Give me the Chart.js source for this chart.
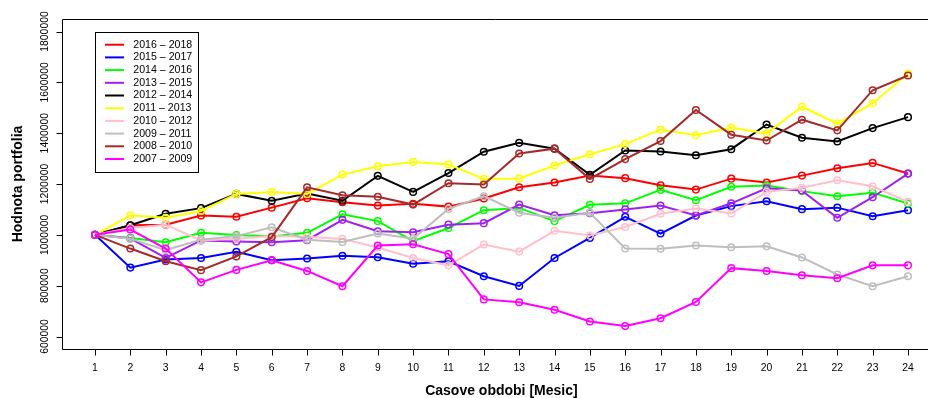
<!DOCTYPE html>
<html>
<head>
<meta charset="utf-8">
<script src="https://cdn.jsdelivr.net/npm/chart.js@4"></script>
<style>
  html, body { margin: 0; padding: 0; background: #fff; overflow: hidden; }
  #wrap { width: 928px; height: 398px; }
</style>
</head>
<body>
<div id="wrap"><canvas id="c" width="928" height="398"></canvas></div>
<script>
// Months of the investment horizon
const months = [1,2,3,4,5,6,7,8,9,10,11,12,13,14,15,16,17,18,19,20,21,22,23,24];
const yTicks = [600000, 800000, 1000000, 1200000, 1400000, 1600000, 1800000];

// Portfolio value for each two-year window
const p2016_2018 = [1000000,1038000,1040000,1076000,1071000,1107000,1144000,1128000,1115000,1122000,1111000,1143000,1187000,1206000,1233000,1223000,1195000,1178000,1221000,1206000,1233000,1262000,1283000,1241000];
const p2015_2017 = [1000000,871000,903000,909000,933000,900000,907000,918000,912000,886000,896000,837000,799000,909000,988000,1071000,1005000,1076000,1113000,1132000,1101000,1107000,1073000,1097000];
const p2014_2016 = [1000000,988000,971000,1008000,999000,993000,1008000,1081000,1054000,975000,1027000,1097000,1106000,1054000,1118000,1124000,1177000,1136000,1189000,1194000,1172000,1152000,1166000,1123000];
const p2013_2015 = [1000000,986000,909000,978000,974000,971000,979000,1059000,1014000,1010000,1040000,1046000,1119000,1077000,1085000,1100000,1115000,1076000,1124000,1183000,1174000,1067000,1148000,1241000];
const p2012_2014 = [1000000,1038000,1083000,1105000,1161000,1134000,1163000,1134000,1232000,1169000,1243000,1327000,1362000,1339000,1236000,1332000,1328000,1313000,1337000,1434000,1382000,1367000,1420000,1463000];
const p2011_2013 = [1000000,1077000,1067000,1094000,1161000,1169000,1161000,1237000,1270000,1287000,1277000,1220000,1222000,1273000,1317000,1357000,1414000,1392000,1422000,1399000,1504000,1438000,1518000,1635000];
const p2010_2012 = [1000000,1027000,1040000,978000,985000,995000,992000,984000,950000,909000,880000,962000,934000,1016000,997000,1031000,1083000,1104000,1084000,1169000,1185000,1215000,1191000,1130000];
const p2009_2011 = [1000000,985000,940000,981000,995000,1030000,981000,972000,1005000,985000,1102000,1152000,1087000,1067000,1087000,946000,945000,958000,951000,955000,911000,844000,798000,837000];
const p2008_2010 = [1000000,946000,896000,861000,915000,991000,1187000,1156000,1150000,1119000,1203000,1198000,1320000,1339000,1220000,1298000,1369000,1491000,1394000,1371000,1453000,1411000,1569000,1627000];
const p2007_2009 = [1000000,1021000,946000,813000,862000,900000,858000,798000,958000,963000,924000,746000,735000,705000,659000,641000,672000,736000,869000,858000,841000,829000,880000,880000];

const seriesNames = ['2016 \u2013 2018','2015 \u2013 2017','2014 \u2013 2016','2013 \u2013 2015','2012 \u2013 2014',
                     '2011 \u2013 2013','2010 \u2013 2012','2009 \u2013 2011','2008 \u2013 2010','2007 \u2013 2009'];
const seriesValues = [p2016_2018,p2015_2017,p2014_2016,p2013_2015,p2012_2014,p2011_2013,p2010_2012,p2009_2011,p2008_2010,p2007_2009];
const seriesColors = ['#ff0000','#0000ff','#00ff00','#a020f0','#000000','#ffff00','#ffc0cb','#bebebe','#a52a2a','#ff00ff'];

const datasets = seriesValues.map((vals, i) => ({
  label: seriesNames[i],
  data: vals.map((v, j) => ({ x: months[j], y: v })),
  borderColor: seriesColors[i],
  borderWidth: 2,
  pointRadius: 3.3,
  pointBorderWidth: 1.5,
  pointBackgroundColor: 'rgba(0,0,0,0)',
  pointBorderColor: seriesColors[i],
  tension: 0,
  order: seriesValues.length - i
}));

const FONT = '"Liberation Sans", Arial, Helvetica, sans-serif';

// Axes, frame, titles and legend in the classic boxed style
const framePlugin = {
  id: 'frame',
  afterDraw(chart) {
    const ctx = chart.ctx;
    const a = chart.chartArea;
    const xs = chart.scales.x, ys = chart.scales.y;
    const L = Math.round(a.left) + 0.5, T = Math.round(a.top) + 0.5, B = Math.round(a.bottom) + 0.5;
    ctx.save();
    ctx.strokeStyle = '#000';
    ctx.lineWidth = 1;
    // plot frame (its right side lies past the canvas edge)
    ctx.beginPath();
    ctx.moveTo(chart.width + 20, T);
    ctx.lineTo(L, T);
    ctx.lineTo(L, B);
    ctx.lineTo(chart.width + 20, B);
    ctx.stroke();
    // x axis ticks and labels
    ctx.beginPath();
    months.forEach(m => {
      const px = Math.round(xs.getPixelForValue(m)) + 0.5;
      ctx.moveTo(px, B);
      ctx.lineTo(px, B + 6);
    });
    ctx.stroke();
    ctx.fillStyle = '#000';
    ctx.font = '10.4px ' + FONT;
    ctx.textAlign = 'center';
    ctx.textBaseline = 'middle';
    months.forEach(m => ctx.fillText(String(m), xs.getPixelForValue(m), 368.5));
    // y axis ticks and rotated labels
    ctx.beginPath();
    yTicks.forEach(t => {
      const py = Math.round(ys.getPixelForValue(t)) + 0.5;
      ctx.moveTo(L, py);
      ctx.lineTo(L - 6, py);
    });
    ctx.stroke();
    yTicks.forEach(t => {
      ctx.save();
      ctx.translate(45.5, ys.getPixelForValue(t));
      ctx.rotate(-Math.PI / 2);
      ctx.fillText(String(t), 0, 0);
      ctx.restore();
    });
    // axis titles
    ctx.font = 'bold 14px ' + FONT;
    ctx.fillText('Casove obdobi [Mesic]', 501.4, 391.5);
    ctx.save();
    ctx.translate(18.3, (a.top + a.bottom) / 2);
    ctx.rotate(-Math.PI / 2);
    ctx.fillText('Hodnota portfolia', 0, 0);
    ctx.restore();
    // legend
    const lx = 95.5, ly = 32.5, lw = 103, lh = 140;
    ctx.fillStyle = '#fff';
    ctx.fillRect(lx, ly, lw, lh);
    ctx.strokeStyle = '#000';
    ctx.strokeRect(lx, ly, lw, lh);
    ctx.font = '10.6px ' + FONT;
    ctx.textAlign = 'left';
    seriesNames.forEach((name, i) => {
      const ry = 44.7 + i * 12.7;
      ctx.strokeStyle = seriesColors[i];
      ctx.lineWidth = 2;
      ctx.beginPath();
      ctx.moveTo(105, ry);
      ctx.lineTo(124, ry);
      ctx.stroke();
      ctx.fillStyle = '#000';
      ctx.fillText(name, 133.3, ry);
    });
    ctx.restore();
  }
};

new Chart(document.getElementById('c'), {
  type: 'line',
  data: { datasets },
  options: {
    responsive: false,
    animation: false,
    devicePixelRatio: 1,
    layout: { autoPadding: false, padding: { left: 62.3, top: 19.3, right: 0, bottom: 49.3 } },
    plugins: { legend: { display: false }, tooltip: { enabled: false } },
    scales: {
      x: { type: 'linear', min: 0.075, max: 24.566, display: false },
      y: { type: 'linear', min: 552000, max: 1848000, display: false }
    }
  },
  plugins: [framePlugin]
});
</script>
</body>
</html>
